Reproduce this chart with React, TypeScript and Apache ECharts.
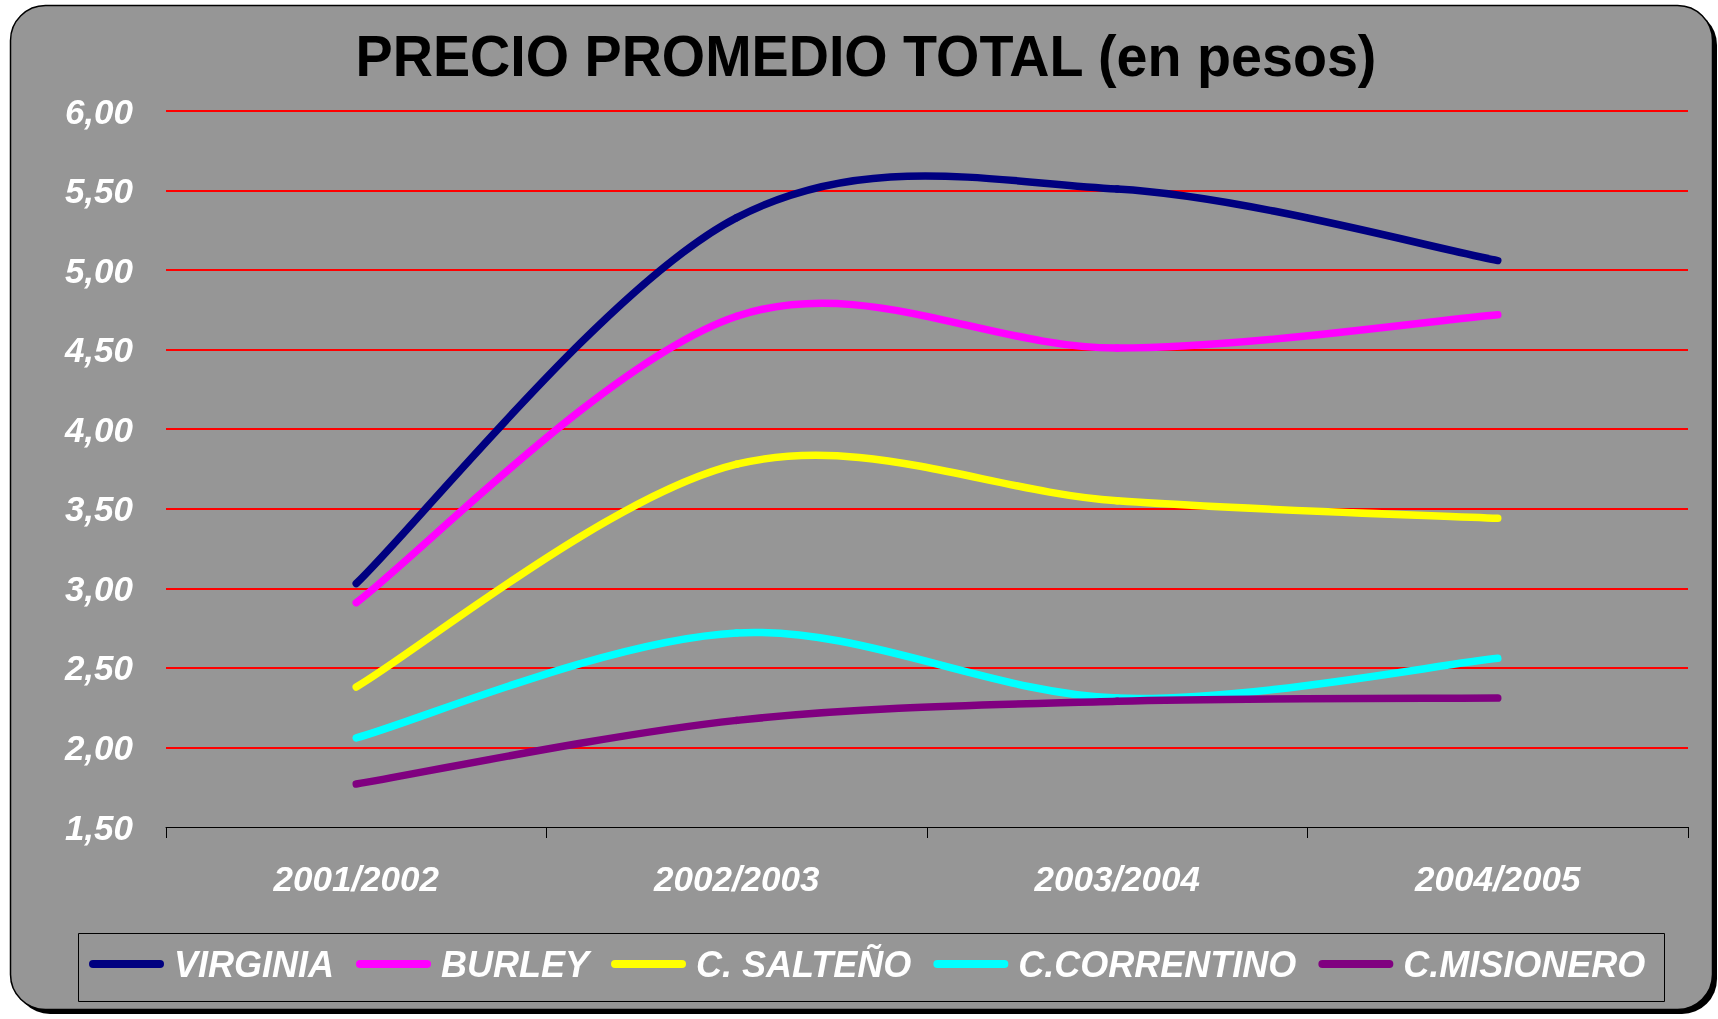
import React, { useEffect, useRef } from "react";
import * as echarts from "echarts";

const title = "PRECIO PROMEDIO TOTAL (en pesos)";
const categories = ["2001/2002", "2002/2003", "2003/2004", "2004/2005"];
const seriesNames = ["VIRGINIA", "BURLEY", "C. SALTEÑO", "C.CORRENTINO", "C.MISIONERO"];
const virginia = [3.03, 5.33, 5.51, 5.06];
const burley = [2.91, 4.71, 4.51, 4.72];
const salteno = [2.38, 3.78, 3.55, 3.44];
const correntino = [2.06, 2.72, 2.31, 2.56];
const misionero = [1.77, 2.17, 2.29, 2.31];
const seriesColors = ["#000080", "#FF00FF", "#FFFF00", "#00FFFF", "#800080"];
const yMin = 1.5;
const yMax = 6;
const yStep = 0.5;

const FONT = "'Liberation Sans', Arial, sans-serif";

function makeRenderItem(arr: number[], color: string) {
  return (params: any, api: any) => {
    const k = params.dataIndex;
    const n = arr.length;
    if (k >= n - 1) return null;
    const pt = (j: number) => api.coord([j, arr[j]]);
    const prev = pt(Math.max(k - 1, 0));
    const cur = pt(k);
    const next = pt(k + 1);
    const next2 = pt(Math.min(k + 2, n - 1));
    const cpx1 = cur[0] + (next[0] - prev[0]) / 6;
    const cpy1 = cur[1] + (next[1] - prev[1]) / 6;
    const cpx2 = next[0] - (next2[0] - cur[0]) / 6;
    const cpy2 = next[1] - (next2[1] - cur[1]) / 6;
    return {
      type: "bezierCurve",
      shape: {
        x1: cur[0],
        y1: cur[1],
        x2: next[0],
        y2: next[1],
        cpx1,
        cpy1,
        cpx2,
        cpy2,
      },
      style: {
        stroke: color,
        fill: "none",
        lineWidth: 7.5,
        lineCap: "round",
        lineJoin: "round",
      },
    };
  };
}

export default function App() {
  const ref = useRef<HTMLDivElement>(null);
  useEffect(() => {
    if (!ref.current) return;
    const chart = echarts.init(ref.current, null, { renderer: "svg" });
    const values = [virginia, burley, salteno, correntino, misionero];
    const legendIcon =
      "path://M4,0 L71,0 A4,4 0 0 1 71,8 L4,8 A4,4 0 0 1 4,0 Z";
    const nLines = Math.round((yMax - yMin) / yStep) + 1;
    const splitColors = Array.from({ length: nLines }, (_, i) => (i === 0 ? "transparent" : "#FF0000"));
    chart.setOption({
      animation: false,
      backgroundColor: "transparent",
      graphic: [
        {
          type: "rect",
          z: -20,
          silent: true,
          shape: { x: 15, y: 10, width: 1702, height: 1004, r: 35 },
          style: { fill: "#000000" },
        },
        {
          type: "rect",
          z: -19,
          silent: true,
          shape: { x: 10.5, y: 5.5, width: 1702, height: 1004, r: 35 },
          style: { fill: "#969696", stroke: "#000000", lineWidth: 1.5 },
        },
        {
          type: "rect",
          z: -18,
          silent: true,
          shape: { x: 78.5, y: 933.5, width: 1586, height: 68 },
          style: { fill: "none", stroke: "#000000", lineWidth: 1 },
        },
        {
          type: "text",
          z: 10,
          x: 866,
          y: 56,
          scaleX: 0.96,
          style: {
            text: title,
            fill: "#000000",
            font: `bold 58px ${FONT}`,
            textAlign: "center",
            textVerticalAlign: "middle",
          },
        },
      ],
      grid: { left: 166, right: 30, top: 111, bottom: 192, containLabel: false },
      legend: {
        left: 84,
        top: 939,
        orient: "horizontal",
        itemWidth: 75,
        itemHeight: 8,
        itemGap: 22,
        icon: legendIcon,
        data: seriesNames.map((n, i) => ({ name: n, itemStyle: { color: seriesColors[i] } })),
        textStyle: {
          color: "#FFFFFF",
          fontFamily: FONT,
          fontWeight: "bold",
          fontStyle: "italic",
          fontSize: 36,
          lineHeight: 40,
          padding: [0, 0, 0, 5],
        },
      },
      xAxis: {
        type: "category",
        data: categories,
        boundaryGap: true,
        axisLine: { show: true, lineStyle: { color: "#000000", width: 1 } },
        axisTick: { show: true, length: 11, lineStyle: { color: "#000000", width: 1 } },
        axisLabel: {
          color: "#FFFFFF",
          fontFamily: FONT,
          fontWeight: "bold",
          fontStyle: "italic",
          fontSize: 35,
          margin: 34,
        },
        splitLine: { show: false },
        z: 5,
      },
      yAxis: {
        type: "value",
        min: yMin,
        max: yMax,
        interval: yStep,
        axisLine: { show: false },
        axisTick: { show: false },
        axisLabel: {
          color: "#FFFFFF",
          fontFamily: FONT,
          fontWeight: "bold",
          fontStyle: "italic",
          fontSize: 35,
          margin: 33,
          formatter: (v: number) => v.toFixed(2).replace(".", ","),
        },
        splitLine: { show: true, lineStyle: { color: splitColors, width: 2 } },
      },
      series: seriesNames.map((name, i) => ({
        name,
        type: "custom",
        coordinateSystem: "cartesian2d",
        data: values[i].map((v, k) => [k, v]),
        encode: { x: 0, y: 1 },
        renderItem: makeRenderItem(values[i], seriesColors[i]),
        itemStyle: { color: seriesColors[i] },
        clip: false,
        z: 3,
      })),
    });
    return () => chart.dispose();
  }, []);
  return (
    <div
      ref={ref}
      style={{ position: "fixed", left: 0, top: 0, width: 1718, height: 1019 }}
    />
  );
}
